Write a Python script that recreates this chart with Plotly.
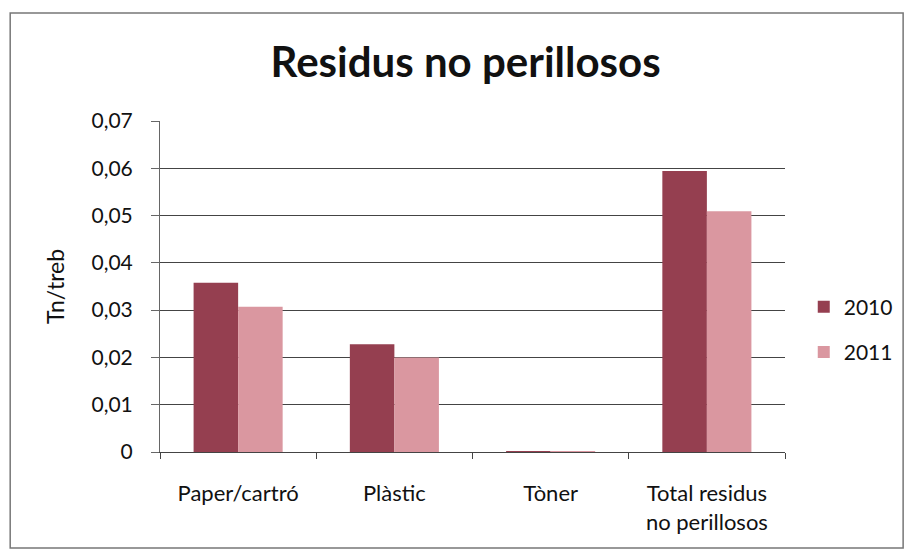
import plotly.graph_objects as go

# data
categories = ["Paper/cartró", "Plàstic", "Tòner", "Total residus<br>no perillosos"]
values_2010 = [0.0358, 0.0228, 0.0002, 0.0594]
values_2011 = [0.0307, 0.0200, 0.0001, 0.0509]
y_ticks = [0, 0.01, 0.02, 0.03, 0.04, 0.05, 0.06, 0.07]
y_tick_labels = ["0", "0,01", "0,02", "0,03", "0,04", "0,05", "0,06", "0,07"]

COLORS = {
    '2010': '#953f50',
    '2011': '#da97a0',
}
FONT = "Lato, 'Noto Sans', sans-serif"

fig = go.Figure()
fig.add_trace(go.Bar(x=categories, y=values_2010, name="2010", legendgroup="a",
                     marker=dict(color=COLORS['2010'], line=dict(width=0))))
fig.add_trace(go.Bar(x=categories, y=values_2011, name="2011", legendgroup="b",
                     marker=dict(color=COLORS['2011'], line=dict(width=0))))

# page body adds 8px margin, so the figure is 16px smaller than the window
fig.update_layout(
    width=902, height=544,
    margin=dict(l=152, r=120, t=113, b=100),
    paper_bgcolor="white", plot_bgcolor="white",
    font=dict(family=FONT, size=21, color="#111"),
    title=dict(text="<b>Residus no perillosos</b>", xref="paper", x=0.489,
               xanchor="center", yref="container", y=0.9, yanchor="middle",
               font=dict(size=42, color="#111")),
    barmode="group", bargap=0.43, bargroupgap=0,
    legend=dict(x=1.03, xanchor="left", y=0.37, yanchor="middle",
                font=dict(size=21), itemwidth=30,
                traceorder="grouped", tracegroupgap=15),
    showlegend=True,
)

fig.update_yaxes(
    range=[0, 0.07], tickvals=y_ticks, ticktext=y_tick_labels,
    showgrid=True, gridcolor="#444", gridwidth=1,
    showline=True, linecolor="#666", linewidth=1,
    ticks="outside", ticklen=8, tickcolor="#666",
    ticklabelstandoff=14, tickfont=dict(size=21),
    zeroline=False,
    title=dict(text="Tn/treb", font=dict(size=23), standoff=20),
)
fig.update_xaxes(
    showline=True, linecolor="#444", linewidth=1,
    ticks="outside", tickson="boundaries", ticklen=6, tickcolor="#444",
    ticklabelstandoff=22, tickfont=dict(size=22),
)

# outer chart border
fig.add_shape(type="rect", xref="paper", yref="paper",
              x0=-0.2397, x1=1.189, y0=-0.290, y1=1.326,
              line=dict(color="#777", width=1.5), fillcolor="rgba(0,0,0,0)")

fig.write_html("out.html")
